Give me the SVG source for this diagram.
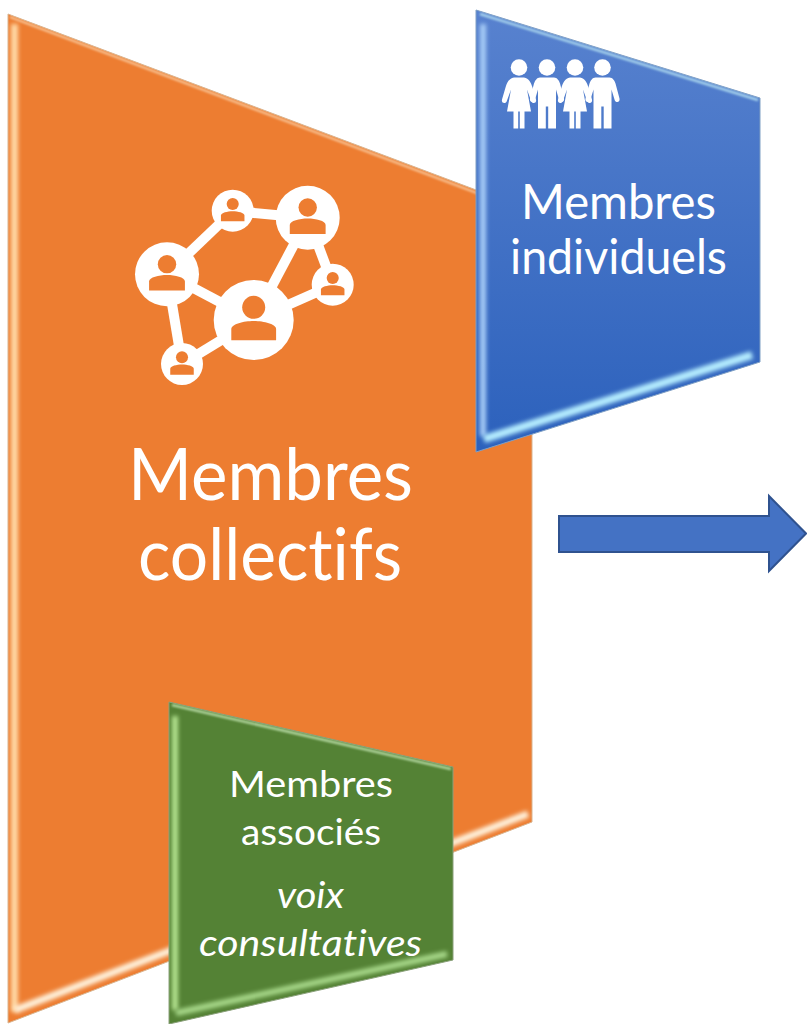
<svg xmlns="http://www.w3.org/2000/svg" xmlns:xlink="http://www.w3.org/1999/xlink" width="807" height="1024" viewBox="0 0 807 1024">
<style>
text{font-family:Lato,"Open Sans","Liberation Sans",sans-serif;fill:#fff;text-anchor:middle;font-variant-ligatures:none}
.glow{fill:none;stroke-linecap:butt;filter:url(#soft)}
.thin{fill:none;filter:url(#softer)}
.hub line{stroke:#fff;stroke-width:10}
</style>
<defs>
<filter id="soft" filterUnits="userSpaceOnUse" x="0" y="0" width="807" height="1024"><feGaussianBlur stdDeviation="2.200"/></filter>
<filter id="softer" filterUnits="userSpaceOnUse" x="0" y="0" width="807" height="1024"><feGaussianBlur stdDeviation="0.8"/></filter>
<linearGradient id="blueFill" x1="0" y1="0" x2="0" y2="1"><stop offset="0" stop-color="#5882cf"/><stop offset="1" stop-color="#2c61bc"/></linearGradient>
<clipPath id="cO"><path d="M8,14L532,211V822L8,1023Z"/></clipPath>
<clipPath id="cB"><path d="M476,10L760,98V362L476,452Z"/></clipPath>
<clipPath id="cG"><path d="M169,702L453,767V960L169,1024Z"/></clipPath>
<g id="person"><circle r="40" fill="#fff"/><circle cy="-12.7" r="11.5" fill="#ed7d31"/><path d="M-22.4,20.3V9C-22.4,4-10,1 0,1S22.4,4 22.4,9V20.3Z" fill="#ed7d31"/></g>
<g id="girl"><circle cy="-59" r="8.3"/><path d="M-5,-49H5C10,-48 12,-44 13.5,-39L17,-27C18,-23 13,-22 12,-26L8,-37 12,-15H5.5V2H0.8V-15H-0.8V2H-5.5V-15H-12L-8,-37-12,-26C-13,-22-18,-23-17,-27L-13.5,-39C-12,-44-10,-48-5,-49Z"/></g>
<g id="boy"><circle cy="-59" r="8.3"/><path d="M-7,-49H7C10,-49 12,-46 13,-43L17,-28C18,-24 13,-23 12,-27L9,-37V2H1.2V-20H-1.2V2H-9V-37L-12,-27C-13,-23-18,-24-17,-28L-13,-43C-12,-46-10,-49-7,-49Z"/></g>
</defs>

<g id="membres-collectifs">
<path d="M8,14L532,211V822L8,1023Z" fill="#ed7d31" stroke="#d9b48f" stroke-width="1"/>
<g clip-path="url(#cO)">
<line class="glow" x1="14.500" y1="24" x2="14.500" y2="1012" stroke="#ffd9a6" stroke-width="7"/>
<line class="glow" x1="15" y1="1010" x2="528" y2="814" stroke="#fff2dc" stroke-width="7"/>
<line class="thin" x1="10" y1="17" x2="530" y2="213" stroke="#f9c79a" stroke-width="2"/>
</g>
<g class="hub">
<line x1="167" y1="274" x2="233" y2="211"/><line x1="233" y1="211" x2="308" y2="218"/><line x1="308" y1="218" x2="254" y2="320"/><line x1="308" y1="218" x2="333" y2="285"/><line x1="333" y1="285" x2="254" y2="320"/><line x1="167" y1="274" x2="254" y2="320"/><line x1="167" y1="274" x2="182" y2="364"/><line x1="182" y1="364" x2="254" y2="320"/>
<use xlink:href="#person" href="#person" transform="translate(253.7,320)"/>
<use xlink:href="#person" href="#person" transform="translate(307.7,217.7) scale(.8)"/>
<use xlink:href="#person" href="#person" transform="translate(167,274.3) scale(.8)"/>
<use xlink:href="#person" href="#person" transform="translate(232.7,210.7) scale(.525)"/>
<use xlink:href="#person" href="#person" transform="translate(332.7,284.7) scale(.525)"/>
<use xlink:href="#person" href="#person" transform="translate(182,364) scale(.525)"/>
</g>
<text x="270.500" y="499.500" font-size="72" textLength="285" lengthAdjust="spacingAndGlyphs">Membres</text>
<text x="270" y="579.500" font-size="72" textLength="264" lengthAdjust="spacingAndGlyphs">collectifs</text>
</g>

<g id="membres-individuels">
<path d="M476,10L760,98V362L476,452Z" fill="url(#blueFill)" stroke="#7f9fc4" stroke-width="1"/>
<g clip-path="url(#cB)">
<line class="glow" x1="483" y1="24" x2="483" y2="436" stroke="#a8cdf7" stroke-width="6"/>
<line class="glow" x1="484" y1="439" x2="752" y2="355" stroke="#b5edff" stroke-width="8"/>
<line class="thin" x1="480" y1="14" x2="758" y2="100" stroke="#a9d5ee" stroke-width="2.500"/>
</g>
<g fill="#fff">
<use xlink:href="#girl" href="#girl" transform="translate(519,126.500)"/>
<use xlink:href="#boy" href="#boy" transform="translate(547,126.500)"/>
<use xlink:href="#girl" href="#girl" transform="translate(575,126.500)"/>
<use xlink:href="#boy" href="#boy" transform="translate(602.500,126.500)"/>
</g>
<text x="618.500" y="219" font-size="48" textLength="195" lengthAdjust="spacingAndGlyphs">Membres</text>
<text x="618.500" y="274" font-size="48" textLength="217" lengthAdjust="spacingAndGlyphs">individuels</text>
</g>

<g id="membres-associes">
<path d="M169,702L453,767V960L169,1024Z" fill="#548235" stroke="#8aa07a" stroke-width="1"/>
<g clip-path="url(#cG)">
<line class="glow" x1="175" y1="716" x2="175" y2="1010" stroke="#b4e38f" stroke-width="6"/>
<line class="glow" x1="176" y1="1013" x2="447" y2="954" stroke="#a8d98a" stroke-width="6"/>
<line class="thin" x1="172" y1="705" x2="451" y2="769" stroke="#b4d8a0" stroke-width="2.500"/>
</g>
<text x="311" y="796.500" font-size="36" textLength="164" lengthAdjust="spacingAndGlyphs">Membres</text>
<text x="311" y="844.500" font-size="36" textLength="140" lengthAdjust="spacingAndGlyphs">associés</text>
<text x="310.500" y="908" font-size="36" font-style="italic" textLength="67" lengthAdjust="spacingAndGlyphs">voix</text>
<text x="310.500" y="956" font-size="36" font-style="italic" textLength="223" lengthAdjust="spacingAndGlyphs">consultatives</text>
</g>

<g id="connectors">
<path d="M559,516H769V496L806,533.500 769,571V552H559Z" fill="#4472c4" stroke="#2f528f" stroke-width="2"/>
</g>
</svg>
